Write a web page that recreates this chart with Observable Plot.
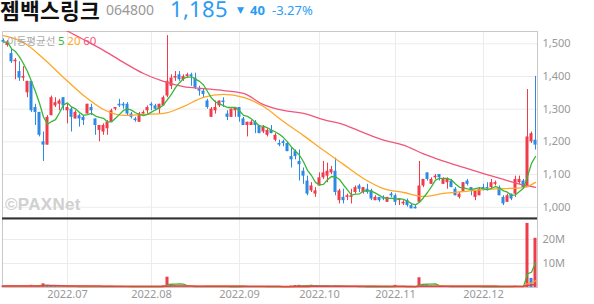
<!DOCTYPE html>
<html><head><meta charset="utf-8">
<script src="https://cdn.jsdelivr.net/npm/d3@7"></script>
<script src="https://cdn.jsdelivr.net/npm/@observablehq/plot@0.6"></script>
<style>
@font-face{font-family:"HdrKR";src:local("Noto Sans CJK KR Bold"),local("NotoSansCJKkr-Bold");font-weight:bold;ascent-override:84%;descent-override:16%;line-gap-override:0%}
@font-face{font-family:"HdrNum";src:local("Noto Sans Regular"),local("NotoSans-Regular"),local("Noto Sans");ascent-override:74%;descent-override:26%;line-gap-override:0%}
body{margin:0;background:#fff;width:594px;height:304px;position:relative;overflow:hidden;font-family:"Noto Sans",sans-serif}
#hdr{position:absolute;left:0;top:0;width:594px;height:30px}
#hdr span{position:absolute;white-space:nowrap;line-height:1}
#price{position:absolute;left:0;top:30px}
#vol{position:absolute;left:0;top:217px}
#legend{position:absolute;left:7px;top:35px;font-size:10.5px;line-height:1;white-space:nowrap}
#wm{position:absolute;left:5px;top:195px;font:bold 17px "Liberation Sans",Arial,sans-serif;color:#d0d0d0;letter-spacing:0.3px}
</style></head><body>
<div id="hdr"></div>
<div id="price"></div>
<div id="vol"></div>
<div id="legend"></div>
<div id="wm"></div>
<script>
// ---- header values ----
const stockName = "젬백스링크";
const stockCode = "064800";
const lastPrice = "1,185";
const changeAbs = "40";
const changePct = "-3.27%";

// ---- daily candles (trading-day index 0 = 2022-06-09 ... 133 = 2022-12-20) ----
const openP = [
1510,1495,1470,1445,1415,1395,1350,1385,1305,1290,
1200,1190,1280,1310,1315,1335,1295,1300,1270,1280,
1275,1285,1305,1270,1235,1230,1240,1260,1300,1315,
1315,1315,1285,1270,1260,1285,1295,1315,1310,1300,
1310,1340,1370,1395,1405,1390,1400,1405,1395,1360,
1355,1325,1275,1295,1310,1325,1285,1275,1295,1305,
1270,1250,1250,1260,1250,1230,1220,1235,1205,1195,
1200,1195,1155,1170,1140,1110,1080,1050,1040,1065,
1090,1095,1105,1110,1020,1030,1030,1030,1045,1065,
1045,1055,1050,1020,1030,1030,1015,1040,1035,1020,
1010,1020,1005,1000,1015,1065,1105,1070,1090,1100,
1070,1075,1080,1055,1030,1045,1080,1060,1030,1035,
1060,1060,1060,1070,1060,1030,1015,1040,1040,1075,
1080,1060,1200,1205];
const highP = [
1515,1510,1485,1455,1445,1430,1385,1385,1315,1290,
1230,1280,1340,1335,1330,1335,1315,1305,1295,1285,
1280,1315,1315,1270,1250,1255,1265,1300,1305,1330,
1320,1320,1290,1275,1290,1295,1310,1320,1315,1315,
1340,1525,1405,1415,1415,1405,1410,1410,1410,1370,
1360,1330,1305,1325,1325,1335,1295,1300,1305,1305,
1275,1260,1265,1265,1250,1250,1240,1250,1225,1205,
1205,1200,1180,1175,1175,1120,1095,1075,1060,1105,
1140,1135,1125,1150,1055,1055,1040,1055,1065,1070,
1060,1070,1055,1035,1030,1035,1030,1045,1040,1025,
1020,1025,1010,1005,1140,1085,1105,1090,1100,1100,
1090,1090,1085,1060,1045,1075,1085,1060,1050,1060,
1070,1075,1085,1080,1065,1035,1040,1040,1095,1095,
1085,1360,1230,1400];
const lowP = [
1505,1490,1440,1390,1385,1385,1335,1290,1250,1215,
1140,1190,1280,1305,1295,1295,1255,1230,1270,1245,
1250,1285,1280,1220,1200,1220,1220,1260,1295,1305,
1300,1280,1270,1260,1260,1280,1285,1295,1295,1285,
1310,1335,1360,1385,1385,1385,1395,1370,1360,1340,
1335,1300,1275,1285,1305,1305,1265,1275,1275,1260,
1250,1215,1250,1225,1225,1225,1215,1225,1200,1185,
1185,1170,1120,1145,1080,1070,1035,1045,1030,1065,
1085,1075,1100,1035,1010,1010,1020,1010,1040,1045,
1040,1040,1020,1020,1015,1020,1015,1030,1005,1005,
1005,1000,995,995,1015,1060,1080,1070,1085,1080,
1070,1055,1060,1035,1025,1045,1065,1035,1020,1035,
1050,1050,1055,1065,1035,1005,1015,1020,1030,1070,
1060,1060,1195,1175];
const closeP = [
1505,1505,1445,1450,1395,1400,1385,1295,1290,1220,
1190,1275,1335,1320,1325,1310,1305,1275,1290,1270,
1265,1315,1295,1250,1250,1250,1260,1295,1305,1310,
1310,1285,1275,1265,1285,1290,1305,1310,1300,1315,
1335,1385,1395,1400,1390,1400,1405,1400,1365,1355,
1345,1305,1300,1305,1325,1320,1275,1300,1305,1275,
1250,1260,1260,1250,1225,1245,1235,1225,1220,1190,
1195,1170,1145,1155,1130,1095,1040,1065,1050,1090,
1105,1110,1115,1045,1050,1020,1035,1035,1060,1055,
1060,1045,1025,1030,1020,1025,1030,1035,1015,1025,
1015,1005,995,995,1065,1085,1085,1085,1095,1090,
1085,1085,1060,1035,1040,1075,1070,1050,1050,1055,
1055,1055,1075,1075,1035,1010,1035,1025,1085,1085,
1060,1215,1225,1190];
const volume = [
620000,540000,700000,480000,650000,520000,830000,910000,690000,760000,
1520000,780000,640000,450000,390000,420000,510000,470000,360000,340000,
310000,450000,380000,420000,390000,300000,350000,480000,330000,290000,
260000,310000,280000,250000,300000,240000,330000,280000,230000,360000,
620000,4300000,1250000,680000,520000,410000,380000,350000,420000,390000,
330000,450000,400000,360000,280000,250000,380000,310000,260000,340000,
370000,410000,290000,300000,350000,280000,260000,240000,310000,330000,
250000,390000,600000,800000,900000,600000,850000,950000,500000,560000,
610000,530000,400000,720000,650000,420000,350000,380000,340000,300000,
270000,290000,360000,280000,250000,230000,260000,240000,880000,410000,
280000,300000,330000,260000,4050000,1300000,1000000,620000,480000,400000,
380000,420000,350000,390000,310000,460000,330000,300000,280000,260000,
240000,230000,290000,250000,310000,360000,300000,270000,520000,380000,
340000,26700000,3800000,20500000];

const maIndex = [0,5,10,15,20,25,30,35,40,45,50,55,60,65,70,75,80,85,90,95,100,105,110,115,120,125,130,133];
const ma20 = [1525,1504,1455,1397,1342,1299,1281,1284,1287,1308,1336,1345,1336,1308,1262,1219,1174,1131,1088,1057,1045,1033,1042,1048,1054,1057,1060,1076];
const ma60 = [1620,1595,1575,1545,1513,1480,1443,1409,1385,1369,1363,1357,1348,1314,1296,1287,1268,1253,1228,1205,1190,1163,1141,1122,1103,1085,1068,1061];

// ---- axes ----
const monthTicks = [16,37,59,79,98,120];
const monthLabels = ["2022.07","2022.08","2022.09","2022.10","2022.11","2022.12"];
const priceTicks = [1000,1100,1200,1300,1400,1500];
const volTicks = [10000000,20000000];
const maPeriods = [5,20,60];

const RED = "#ef3b4a", BLUE = "#2d89e6";
const C5 = "#38b738", C20 = "#ffa726", C60 = "#f2557a";
const maColors = [C5,C20,C60];
const GRID = "#ececec";

// header
const hdr = document.getElementById("hdr");
function span(txt, style){const s=document.createElement("span");s.textContent=txt;s.setAttribute("style",style);hdr.appendChild(s);}
span(stockName,"left:0px;top:1px;font-weight:bold;font-size:21.5px;font-family:'HdrKR','Noto Sans CJK KR';color:#111");
span(stockCode,"left:106px;top:3px;font-size:14px;font-family:'Noto Sans';color:#999");
span(lastPrice,"left:170px;top:0.5px;font-size:22px;font-family:'HdrNum','Noto Sans';color:#2b9cf2");
span("▼","left:237px;top:6px;font-size:9px;font-family:'DejaVu Sans';color:#2b9cf2");
span(changeAbs,"left:250px;top:4px;font-size:13px;font-weight:bold;font-family:'Noto Sans';color:#2b9cf2");
span(changePct,"left:272px;top:4px;font-size:13px;font-family:'Noto Sans';color:#2b9cf2");

// legend
const lg = document.getElementById("legend");
lg.innerHTML = '<span style="font-family:\'Noto Sans CJK KR\';color:#aaa">이동평균선</span> ' +
  maPeriods.map((p,k)=>`<span style="color:${maColors[k]};font-size:11.5px">${p}</span>`).join(" ");
document.getElementById("wm").textContent = "©PAXNet";

const candles = openP.map((o,i)=>({i, open:o, high:highP[i], low:lowP[i], close:closeP[i], col: closeP[i]>=o?RED:BLUE}));
const vols = volume.map((v,i)=>({i, v, col: (i===0 || v>=volume[i-1]) ? RED : BLUE}));
const maRows20 = maIndex.map((i,k)=>({i, v:ma20[k]}));
const maRows60 = maIndex.map((i,k)=>({i, v:ma60[k]}));
const xDomain = [-0.25,133.5];
const half = 0.375;

const price = Plot.plot({
  width:594, height:187, marginTop:1, marginBottom:0, marginLeft:2, marginRight:57,
  style:{background:"transparent", fontFamily:"'Noto Sans',sans-serif", fontSize:"11px", color:"#999"},
  x:{domain:xDomain, axis:null},
  y:{domain:[968.5,1537.6], axis:"right", ticks:priceTicks, tickSize:0, tickPadding:5, tickFormat:d3.format(","), label:null},
  color:{type:"identity"},
  marks:[
    Plot.ruleY(priceTicks,{stroke:GRID}),
    Plot.ruleX(monthTicks,{stroke:GRID}),
    Plot.frame({stroke:"#c8c8c8"}),
    Plot.ruleX(candles,{x:"i", y1:"low", y2:"high", stroke:"col"}),
    Plot.rect(candles,{x1:d=>d.i-half, x2:d=>d.i+half, y1:"open", y2:"close", fill:"col"}),
    Plot.line(maRows60,{x:"i", y:"v", stroke:C60, strokeWidth:1.3, curve:"monotone-x", clip:true}),
    Plot.line(maRows20,{x:"i", y:"v", stroke:C20, strokeWidth:1.3, curve:"monotone-x", clip:true}),
    Plot.lineY(candles, Plot.windowY({k:5, anchor:"end", reduce:"mean", strict:false}, {x:"i", y:"close", stroke:C5, strokeWidth:1.3}))
  ]
});
document.getElementById("price").appendChild(price);

const vmax = 29170000;
const vol = Plot.plot({
  width:594, height:87, marginTop:0, marginBottom:17, marginLeft:2, marginRight:57,
  style:{background:"transparent", fontFamily:"'Noto Sans',sans-serif", fontSize:"11px", color:"#999"},
  x:{domain:xDomain, axis:"bottom", ticks:monthTicks, tickSize:0, tickPadding:3, tickFormat:i=>monthLabels[monthTicks.indexOf(i)], label:null},
  y:{domain:[0,vmax], axis:"right", ticks:volTicks, tickSize:0, tickPadding:5, tickFormat:d=>(d/1e6)+"M", label:null},
  color:{type:"identity"},
  marks:[
    Plot.ruleY(volTicks,{stroke:GRID}),
    Plot.ruleX(monthTicks,{stroke:GRID}),
    Plot.frame({stroke:"#c8c8c8"}),
    Plot.rect(vols,{x1:d=>d.i-half, x2:d=>d.i+half, y1:0, y2:"v", fill:"col"}),
    Plot.lineY(vols, Plot.windowY({k:5, anchor:"end", reduce:"mean", strict:false}, {x:"i", y:"v", stroke:C5, strokeWidth:1.3})),
    Plot.lineY(vols, Plot.windowY({k:20, anchor:"end", reduce:"mean", strict:false}, {x:"i", y:"v", stroke:C20, strokeWidth:1.3})),
    Plot.lineY(vols, Plot.windowY({k:60, anchor:"end", reduce:"mean", strict:false}, {x:"i", y:"v", stroke:RED, strokeWidth:1.5})),
    Plot.ruleY([vmax],{stroke:"#333", strokeWidth:2, dy:1})
  ]
});
document.getElementById("vol").appendChild(vol);
</script>
</body></html>
